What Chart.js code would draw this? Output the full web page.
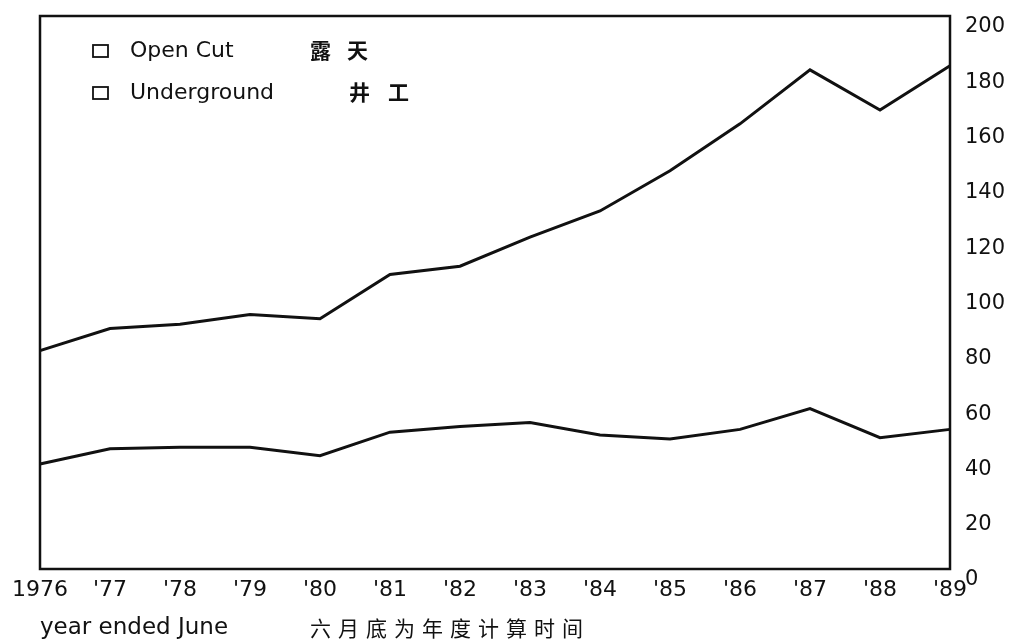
<!DOCTYPE html>
<html>
<head>
<meta charset="utf-8">
<script src="https://cdn.jsdelivr.net/npm/chart.js@4.4.1/dist/chart.umd.min.js"></script>
<style>
  html, body { margin: 0; padding: 0; background: #fff; }
  #wrap { width: 1017px; height: 639px; }
</style>
</head>
<body>
<div id="wrap"><canvas id="coalChart" width="1017" height="639"></canvas></div>
<script>
// Data arrays (million tonnes)
const years = ["1976", "'77", "'78", "'79", "'80", "'81", "'82", "'83", "'84", "'85", "'86", "'87", "'88", "'89"];
const upperLine = [79, 87, 88.5, 92, 90.5, 106.5, 109.5, 120, 129.5, 144, 161, 180.5, 166, 182];
const lowerLine = [38, 43.5, 44, 44, 41, 49.5, 51.5, 53, 48.5, 47, 50.5, 58, 47.5, 50.5];
const yTicks = [0, 20, 40, 60, 80, 100, 120, 140, 160, 180, 200];
const legendEn = ["Open Cut", "Underground"];
const legendZh = ["露天", "井工"];
const noteEn = "year ended June";
const noteZh = "六月底为年度计算时间";

const inkColor = "#111";
const latinFont = "'DejaVu Sans', sans-serif";
const cjkFont = "'Noto Sans CJK SC', sans-serif";

// Draw the box, legend and footnote by hand (scanned-figure look)
const decorPlugin = {
  id: "decor",
  afterDraw(chart) {
    const ctx = chart.ctx;
    const area = chart.chartArea;
    ctx.save();

    // frame around the plot
    ctx.strokeStyle = inkColor;
    ctx.lineWidth = 2.5;
    ctx.strokeRect(area.left, area.top, area.right - area.left, area.bottom - area.top);

    // legend: hollow squares + english + chinese
    ctx.fillStyle = inkColor;
    ctx.lineWidth = 1.8;
    ctx.textBaseline = "alphabetic";
    const rows = [57, 99];
    const zhX = [[310, 347], [349, 388]];
    legendEn.forEach((txt, i) => {
      const base = rows[i];
      ctx.strokeRect(93, base - 12, 15, 12);
      ctx.font = "22px " + latinFont;
      ctx.fillText(txt, 130, base);
      ctx.font = "bold 21px " + cjkFont;
      Array.from(legendZh[i]).forEach((ch, k) => {
        ctx.fillText(ch, zhX[i][k], base + 1);
      });
    });

    // footnote under the axis
    ctx.font = "23px " + latinFont;
    ctx.fillText(noteEn, 40, 634);
    ctx.font = "21px " + cjkFont;
    Array.from(noteZh).forEach((ch, k) => {
      ctx.fillText(ch, 310 + k * 28, 636);
    });

    ctx.restore();
  },
};

const ctx = document.getElementById("coalChart").getContext("2d");
const coalChart = new Chart(ctx, {
  type: "line",
  data: {
    labels: years,
    datasets: [
      {
        label: legendEn[0],
        data: upperLine,
        borderColor: inkColor,
        borderWidth: 3,
        pointRadius: 0,
        tension: 0,
        fill: false,
      },
      {
        label: legendEn[1],
        data: lowerLine,
        borderColor: inkColor,
        borderWidth: 3,
        pointRadius: 0,
        tension: 0,
        fill: false,
      },
    ],
  },
  options: {
    responsive: false,
    animation: false,
    layout: {
      padding: { left: 40, top: 16, right: 0, bottom: 0 },
    },
    plugins: {
      legend: { display: false },
      tooltip: { enabled: false },
    },
    scales: {
      x: {
        type: "category",
        offset: false,
        grid: { display: false, drawTicks: false },
        border: { display: false },
        ticks: {
          color: inkColor,
          font: { family: latinFont, size: 22 },
          padding: 8,
          maxRotation: 0,
          autoSkip: false,
        },
        afterFit: function (scale) {
          scale.height = 70;
        },
      },
      y: {
        position: "right",
        min: yTicks[0],
        max: yTicks[yTicks.length - 1],
        grid: { display: false, drawTicks: false },
        border: { display: false },
        afterBuildTicks: function (scale) {
          scale.ticks = yTicks.map((v) => ({ value: v }));
        },
        ticks: {
          color: inkColor,
          font: { family: latinFont, size: 21 },
          padding: 15,
          labelOffset: 11, // labels sit a bit lower than the frame on the scan
        },
        afterFit: function (scale) {
          scale.width = 67;
          scale.paddingTop = 0;
          scale.paddingBottom = 0;
        },
      },
    },
  },
  plugins: [decorPlugin],
});
</script>
</body>
</html>
